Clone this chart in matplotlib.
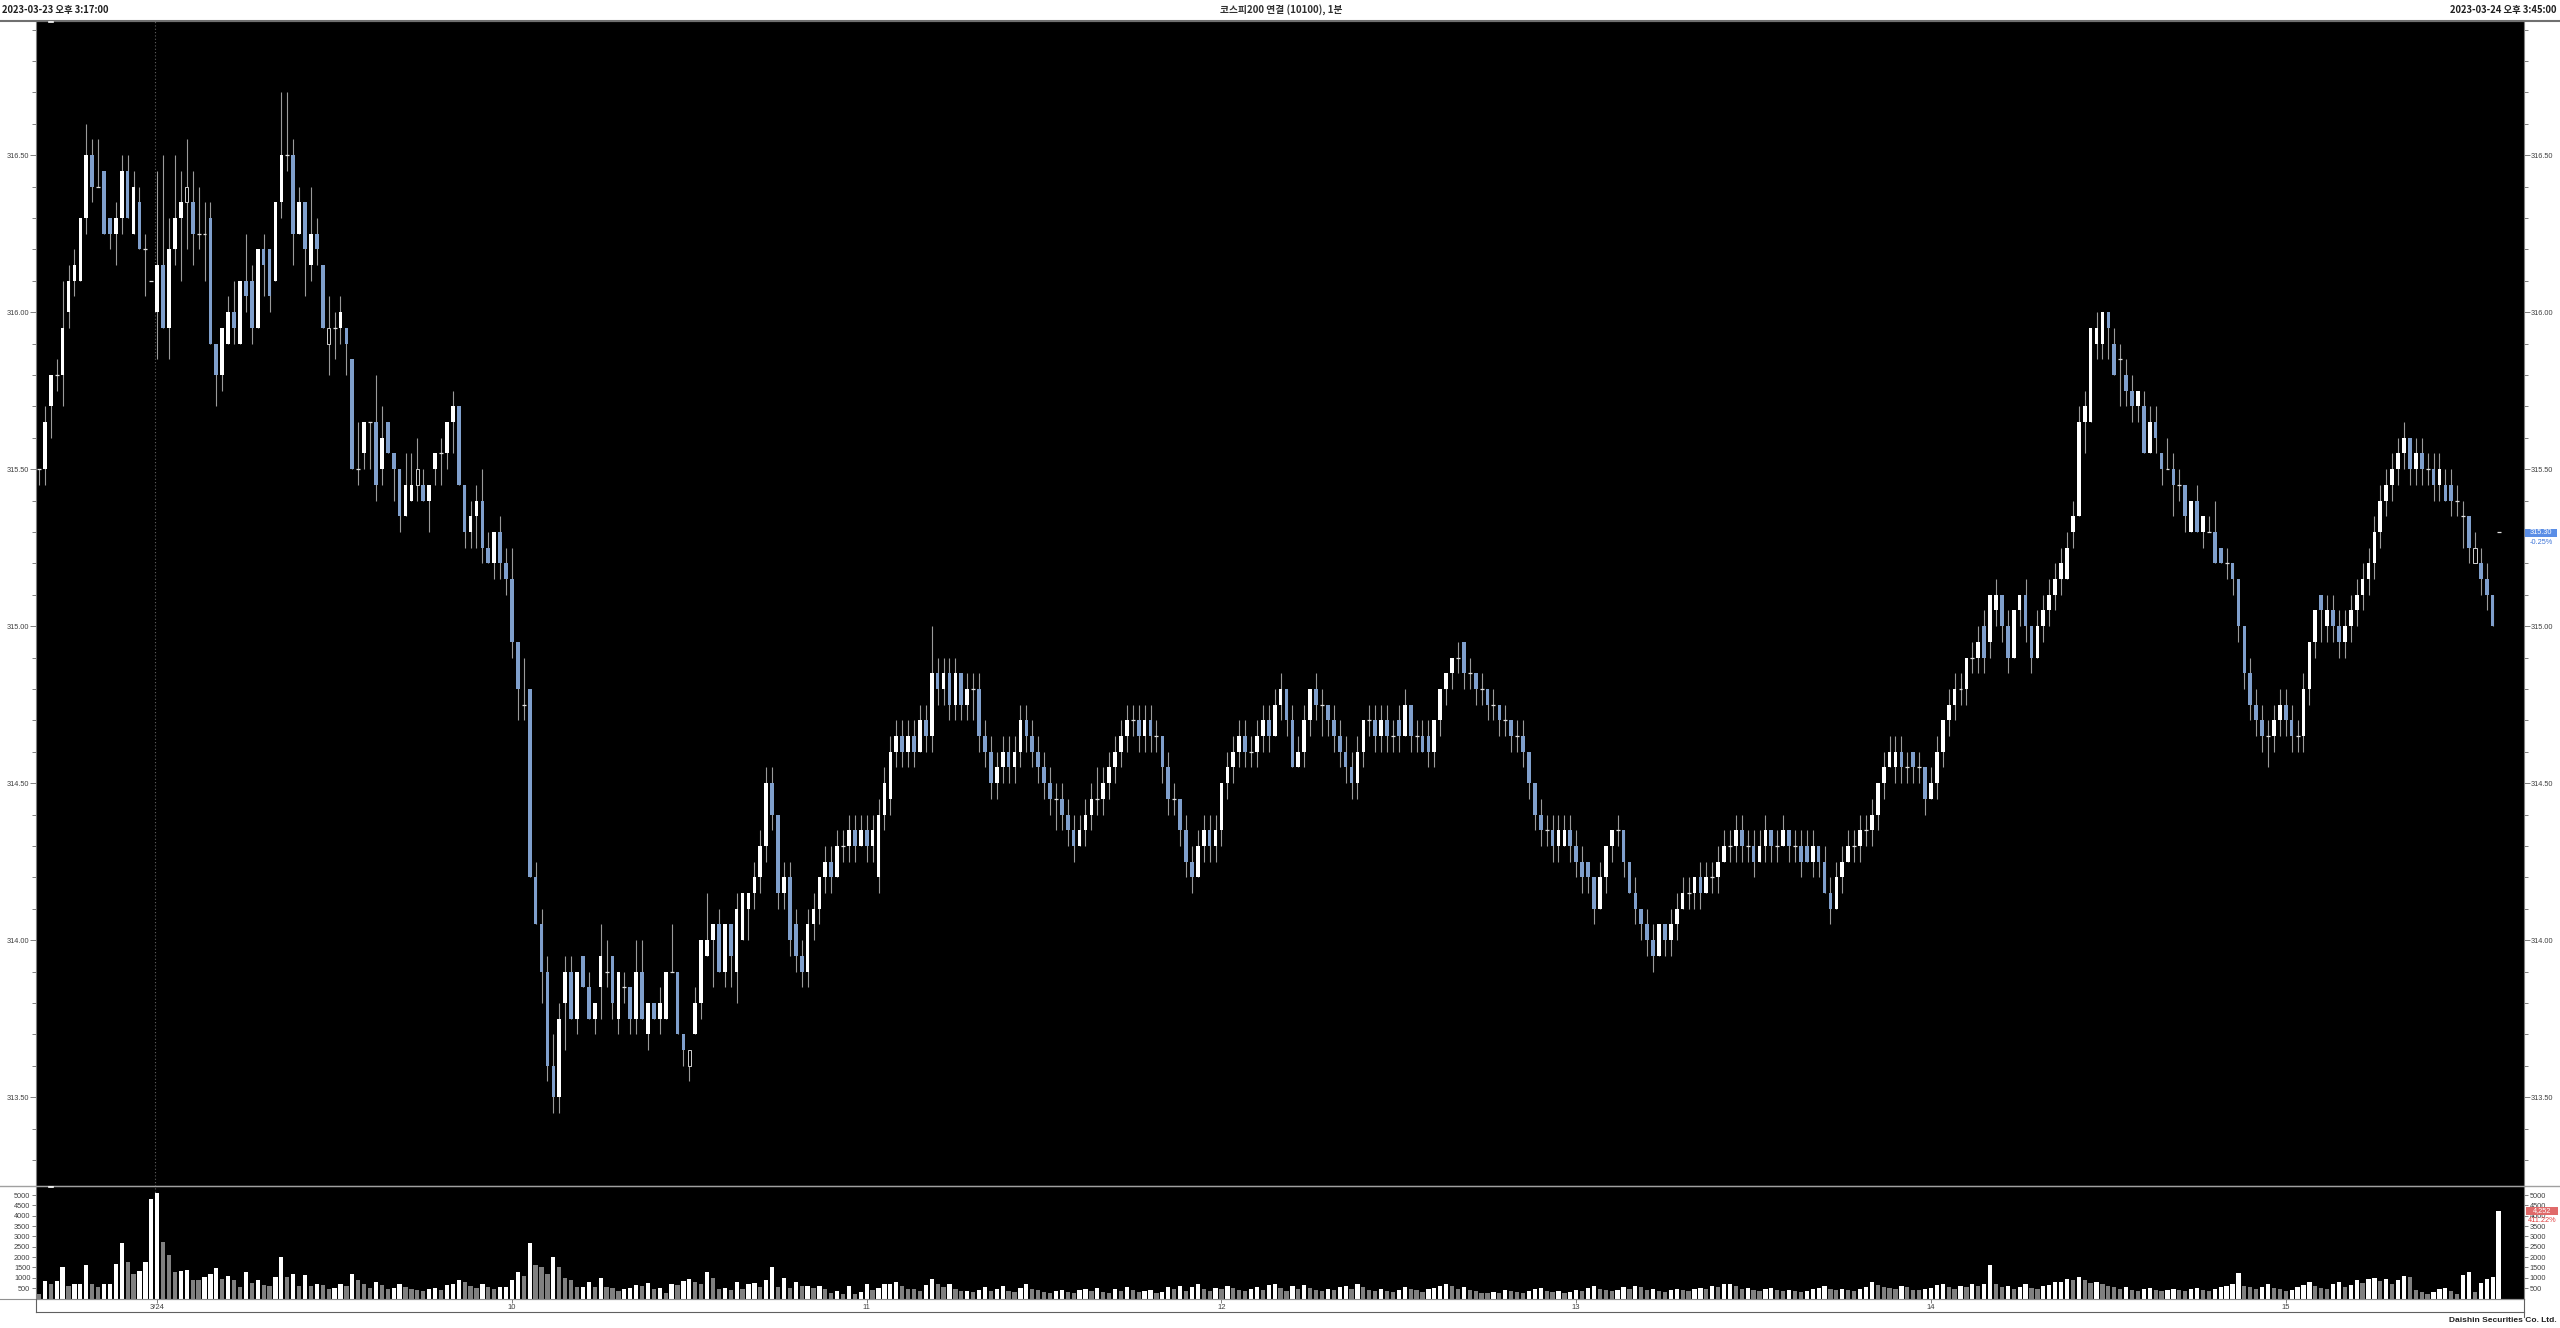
import matplotlib
matplotlib.use("Agg")
import matplotlib.pyplot as plt
import matplotlib.ticker as mticker
import numpy as np
from matplotlib.lines import Line2D
from matplotlib.patches import Rectangle

plt.rcParams['font.family'] = ['Liberation Sans', 'Noto Sans CJK KR', 'DejaVu Sans']

# ---------------- data ----------------
title_left = "2023-03-23 오후 3:17:00"
title_center = "코스피200 연결 (10100), 1분"
title_right = "2023-03-24 오후 3:45:00"
footer = "Daishin Securities Co. Ltd."

x_tick_bars = [20, 80, 140, 200, 260, 320, 380]
x_tick_labels = ["3/24", "10", "11", "12", "13", "14", "15"]
day_break = 19.6

# bars 0..104
opens_a = [315.50, 315.50, 315.70, 315.80, 315.80, 316.00, 316.10, 316.10, 316.30, 316.50,
           316.40, 316.45, 316.30, 316.25, 316.30, 316.45, 316.25, 316.35, 316.20, 316.10,
           316.00, 316.15, 315.95, 316.20, 316.30, 316.35, 316.35, 316.25, 316.25, 316.30,
           315.90, 315.80, 315.90, 316.00, 315.90, 316.10, 316.10, 315.95, 316.20, 316.20,
           316.10, 316.35, 316.50, 316.50, 316.25, 316.35, 316.15, 316.25, 316.15, 315.90,
           315.95, 315.95, 315.95, 315.85, 315.50, 315.55, 315.65, 315.65, 315.50, 315.65,
           315.55, 315.50, 315.35, 315.40, 315.45, 315.45, 315.40, 315.50, 315.55, 315.55,
           315.65, 315.70, 315.45, 315.30, 315.35, 315.40, 315.25, 315.20, 315.30, 315.20,
           315.15, 314.95, 314.75, 314.80, 314.20, 314.05, 313.90, 313.60, 313.50, 313.80,
           313.90, 313.75, 313.95, 313.85, 313.75, 313.85, 313.90, 313.95, 313.75, 313.85,
           313.85, 313.75, 313.90, 313.70, 313.80]
highs_a = [315.50, 315.70, 315.80, 315.85, 316.10, 316.15, 316.20, 316.30, 316.60, 316.55,
           316.55, 316.45, 316.30, 316.35, 316.50, 316.50, 316.45, 316.40, 316.25, 316.10,
           316.45, 316.50, 316.30, 316.50, 316.45, 316.55, 316.45, 316.40, 316.35, 316.35,
           315.90, 315.95, 316.05, 316.10, 316.10, 316.25, 316.15, 316.20, 316.25, 316.20,
           316.35, 316.70, 316.70, 316.55, 316.40, 316.35, 316.40, 316.30, 316.15, 316.05,
           316.00, 316.05, 315.95, 315.85, 315.65, 315.65, 315.65, 315.80, 315.70, 315.65,
           315.55, 315.50, 315.55, 315.55, 315.60, 315.50, 315.45, 315.55, 315.60, 315.65,
           315.75, 315.70, 315.45, 315.40, 315.45, 315.50, 315.30, 315.30, 315.35, 315.25,
           315.25, 314.95, 314.90, 314.80, 314.25, 314.10, 313.95, 313.70, 313.80, 313.95,
           313.95, 313.90, 313.95, 313.90, 313.80, 314.05, 314.00, 313.95, 313.90, 313.90,
           313.85, 314.00, 314.00, 313.80, 313.80]
lows_a = [315.45, 315.45, 315.60, 315.75, 315.70, 315.95, 316.05, 316.10, 316.25, 316.35,
          316.40, 316.25, 316.20, 316.15, 316.25, 316.30, 316.25, 316.20, 316.05, 316.10,
          315.85, 315.95, 315.85, 316.15, 316.10, 316.20, 316.15, 316.20, 316.10, 315.90,
          315.70, 315.75, 315.90, 315.90, 315.90, 316.00, 315.90, 315.95, 316.05, 316.00,
          316.10, 316.30, 316.45, 316.15, 316.25, 316.05, 316.10, 316.15, 315.95, 315.80,
          315.85, 315.90, 315.80, 315.50, 315.45, 315.50, 315.50, 315.40, 315.45, 315.55,
          315.40, 315.30, 315.35, 315.40, 315.40, 315.40, 315.30, 315.45, 315.45, 315.50,
          315.55, 315.45, 315.25, 315.25, 315.25, 315.20, 315.20, 315.15, 315.15, 315.10,
          314.90, 314.70, 314.70, 314.20, 314.05, 313.80, 313.55, 313.45, 313.45, 313.65,
          313.75, 313.70, 313.85, 313.75, 313.70, 313.75, 313.85, 313.75, 313.70, 313.80,
          313.70, 313.70, 313.75, 313.65, 313.75]
closes_a = [315.50, 315.65, 315.80, 315.80, 315.95, 316.10, 316.15, 316.30, 316.50, 316.40,
            316.40, 316.25, 316.25, 316.30, 316.45, 316.30, 316.40, 316.20, 316.20, 316.10,
            316.15, 315.95, 316.20, 316.30, 316.35, 316.40, 316.25, 316.25, 316.25, 315.90,
            315.80, 315.95, 316.00, 315.95, 316.10, 316.05, 315.95, 316.20, 316.15, 316.05,
            316.35, 316.50, 316.50, 316.25, 316.35, 316.20, 316.25, 316.20, 315.95, 315.95,
            315.95, 316.00, 315.90, 315.50, 315.50, 315.65, 315.65, 315.45, 315.60, 315.55,
            315.50, 315.35, 315.45, 315.45, 315.50, 315.40, 315.45, 315.55, 315.55, 315.65,
            315.70, 315.45, 315.30, 315.35, 315.40, 315.25, 315.20, 315.30, 315.20, 315.15,
            314.95, 314.80, 314.75, 314.20, 314.05, 313.90, 313.60, 313.50, 313.75, 313.90,
            313.75, 313.90, 313.85, 313.75, 313.80, 313.95, 313.90, 313.80, 313.90, 313.85,
            313.75, 313.90, 313.75, 313.80, 313.75]

# bars 105..416
opens_b = [313.75, 313.75, 313.90, 313.90, 313.70, 313.60, 313.70, 313.80, 313.95, 314.00,
           314.05, 313.90, 314.05, 313.90, 314.00, 314.10, 314.15, 314.20, 314.30, 314.50,
           314.40, 314.15, 314.20, 314.05, 313.95, 313.90, 314.05, 314.10, 314.20, 314.25,
           314.20, 314.30, 314.30, 314.35, 314.30, 314.35, 314.30, 314.20, 314.40, 314.45,
           314.60, 314.65, 314.60, 314.65, 314.60, 314.70, 314.65, 314.85, 314.80, 314.85,
           314.75, 314.85, 314.75, 314.80, 314.80, 314.65, 314.60, 314.50, 314.55, 314.60,
           314.55, 314.60, 314.70, 314.65, 314.60, 314.55, 314.50, 314.45, 314.45, 314.40,
           314.35, 314.30, 314.35, 314.40, 314.45, 314.45, 314.50, 314.55, 314.60, 314.65,
           314.70, 314.70, 314.65, 314.70, 314.65, 314.65, 314.55, 314.45, 314.45, 314.35,
           314.25, 314.20, 314.30, 314.35, 314.30, 314.35, 314.50, 314.55, 314.60, 314.65,
           314.60, 314.60, 314.65, 314.70, 314.65, 314.75, 314.80, 314.70, 314.55, 314.60,
           314.70, 314.80, 314.75, 314.75, 314.70, 314.65, 314.60, 314.55, 314.50, 314.60,
           314.70, 314.70, 314.65, 314.70, 314.65, 314.70, 314.65, 314.75, 314.65, 314.65,
           314.65, 314.60, 314.70, 314.80, 314.85, 314.90, 314.95, 314.85, 314.85, 314.80,
           314.80, 314.75, 314.75, 314.70, 314.70, 314.65, 314.65, 314.60, 314.50, 314.40,
           314.35, 314.35, 314.30, 314.30, 314.35, 314.30, 314.25, 314.25, 314.20, 314.10,
           314.20, 314.30, 314.35, 314.35, 314.25, 314.15, 314.10, 314.05, 314.00, 313.95,
           314.05, 314.00, 314.05, 314.10, 314.15, 314.15, 314.20, 314.15, 314.20, 314.20,
           314.25, 314.30, 314.30, 314.35, 314.30, 314.30, 314.25, 314.30, 314.35, 314.30,
           314.30, 314.35, 314.30, 314.30, 314.30, 314.25, 314.30, 314.25, 314.15, 314.10,
           314.20, 314.25, 314.30, 314.30, 314.35, 314.35, 314.40, 314.50, 314.55, 314.55,
           314.60, 314.55, 314.60, 314.55, 314.55, 314.45, 314.50, 314.60, 314.70, 314.75,
           314.80, 314.80, 314.90, 314.90, 315.00, 314.95, 315.05, 315.10, 315.00, 314.90,
           315.05, 315.10, 315.00, 314.90, 315.00, 315.05, 315.10, 315.15, 315.15, 315.30,
           315.35, 315.65, 315.65, 315.90, 315.90, 316.00, 315.90, 315.85, 315.80, 315.75,
           315.70, 315.70, 315.55, 315.65, 315.55, 315.50, 315.50, 315.45, 315.45, 315.30,
           315.40, 315.30, 315.30, 315.30, 315.25, 315.20, 315.20, 315.15, 315.00, 314.85,
           314.75, 314.70, 314.65, 314.65, 314.70, 314.75, 314.70, 314.65, 314.65, 314.80,
           314.95, 315.10, 315.00, 315.05, 315.00, 314.95, 315.00, 315.05, 315.10, 315.15,
           315.20, 315.30, 315.40, 315.45, 315.50, 315.55, 315.60, 315.50, 315.55, 315.50,
           315.50, 315.45, 315.45, 315.45, 315.40, 315.35, 315.35, 315.20, 315.20, 315.15,
           315.10, 315.30]
highs_b = [313.85, 313.90, 314.05, 313.90, 313.70, 313.65, 313.85, 314.00, 314.15, 314.05,
           314.10, 314.05, 314.05, 314.15, 314.15, 314.15, 314.25, 314.35, 314.55, 314.55,
           314.40, 314.25, 314.25, 314.10, 314.00, 314.10, 314.15, 314.20, 314.30, 314.30,
           314.35, 314.35, 314.40, 314.40, 314.40, 314.40, 314.40, 314.45, 314.55, 314.65,
           314.70, 314.70, 314.70, 314.70, 314.75, 314.75, 315.00, 314.90, 314.90, 314.90,
           314.90, 314.85, 314.85, 314.85, 314.85, 314.70, 314.65, 314.60, 314.65, 314.65,
           314.65, 314.75, 314.75, 314.70, 314.65, 314.60, 314.55, 314.50, 314.50, 314.45,
           314.40, 314.40, 314.45, 314.50, 314.55, 314.55, 314.60, 314.65, 314.70, 314.75,
           314.75, 314.75, 314.75, 314.75, 314.70, 314.65, 314.60, 314.50, 314.45, 314.40,
           314.30, 314.35, 314.40, 314.40, 314.40, 314.50, 314.60, 314.65, 314.70, 314.70,
           314.65, 314.70, 314.75, 314.75, 314.80, 314.85, 314.80, 314.75, 314.65, 314.75,
           314.80, 314.85, 314.80, 314.75, 314.75, 314.70, 314.65, 314.60, 314.65, 314.70,
           314.75, 314.75, 314.75, 314.75, 314.70, 314.75, 314.80, 314.75, 314.70, 314.70,
           314.70, 314.70, 314.80, 314.85, 314.90, 314.95, 314.95, 314.90, 314.85, 314.85,
           314.80, 314.80, 314.75, 314.75, 314.70, 314.70, 314.70, 314.60, 314.50, 314.45,
           314.40, 314.40, 314.40, 314.40, 314.40, 314.35, 314.30, 314.25, 314.20, 314.25,
           314.30, 314.35, 314.40, 314.35, 314.25, 314.20, 314.10, 314.10, 314.05, 314.05,
           314.05, 314.10, 314.15, 314.20, 314.20, 314.20, 314.25, 314.25, 314.25, 314.30,
           314.35, 314.35, 314.40, 314.40, 314.35, 314.35, 314.35, 314.40, 314.35, 314.35,
           314.40, 314.35, 314.35, 314.35, 314.35, 314.35, 314.30, 314.30, 314.20, 314.25,
           314.30, 314.35, 314.35, 314.40, 314.40, 314.45, 314.50, 314.60, 314.65, 314.65,
           314.65, 314.60, 314.60, 314.60, 314.55, 314.55, 314.65, 314.70, 314.80, 314.85,
           314.85, 314.90, 314.95, 315.00, 315.05, 315.10, 315.15, 315.10, 315.05, 315.05,
           315.10, 315.15, 315.00, 315.05, 315.10, 315.15, 315.20, 315.25, 315.30, 315.40,
           315.70, 315.75, 315.95, 316.00, 316.00, 316.00, 315.95, 315.90, 315.85, 315.80,
           315.75, 315.75, 315.70, 315.70, 315.55, 315.60, 315.55, 315.50, 315.45, 315.40,
           315.45, 315.35, 315.35, 315.40, 315.25, 315.25, 315.20, 315.15, 315.00, 314.90,
           314.80, 314.75, 314.70, 314.75, 314.80, 314.80, 314.75, 314.70, 314.85, 314.95,
           315.05, 315.10, 315.10, 315.10, 315.05, 315.05, 315.10, 315.15, 315.20, 315.25,
           315.35, 315.45, 315.50, 315.55, 315.60, 315.65, 315.60, 315.60, 315.60, 315.55,
           315.55, 315.55, 315.50, 315.50, 315.45, 315.40, 315.35, 315.30, 315.25, 315.20,
           315.10, 315.30]
lows_b = [313.70, 313.75, 313.90, 313.70, 313.60, 313.55, 313.70, 313.75, 313.95, 313.85,
          313.90, 313.85, 313.85, 313.80, 314.00, 314.00, 314.10, 314.15, 314.25, 314.35,
          314.10, 314.10, 313.95, 313.90, 313.85, 313.85, 314.00, 314.05, 314.15, 314.15,
          314.20, 314.25, 314.25, 314.25, 314.30, 314.25, 314.25, 314.15, 314.35, 314.40,
          314.55, 314.55, 314.55, 314.55, 314.60, 314.60, 314.60, 314.75, 314.75, 314.70,
          314.70, 314.70, 314.70, 314.70, 314.60, 314.55, 314.45, 314.45, 314.50, 314.50,
          314.50, 314.55, 314.60, 314.55, 314.50, 314.45, 314.40, 314.35, 314.35, 314.30,
          314.25, 314.30, 314.30, 314.35, 314.40, 314.40, 314.45, 314.50, 314.55, 314.60,
          314.65, 314.60, 314.60, 314.60, 314.60, 314.50, 314.40, 314.40, 314.30, 314.20,
          314.15, 314.20, 314.25, 314.25, 314.25, 314.30, 314.45, 314.50, 314.55, 314.55,
          314.55, 314.55, 314.60, 314.60, 314.65, 314.70, 314.65, 314.55, 314.55, 314.55,
          314.65, 314.70, 314.65, 314.65, 314.60, 314.55, 314.50, 314.45, 314.45, 314.55,
          314.65, 314.60, 314.60, 314.60, 314.60, 314.60, 314.65, 314.60, 314.60, 314.60,
          314.55, 314.55, 314.65, 314.75, 314.80, 314.85, 314.80, 314.80, 314.75, 314.75,
          314.70, 314.70, 314.65, 314.65, 314.60, 314.60, 314.55, 314.45, 314.35, 314.30,
          314.30, 314.25, 314.25, 314.30, 314.25, 314.20, 314.15, 314.15, 314.05, 314.10,
          314.15, 314.25, 314.30, 314.20, 314.15, 314.05, 314.00, 313.95, 313.90, 313.95,
          313.95, 313.95, 314.00, 314.10, 314.10, 314.10, 314.10, 314.15, 314.15, 314.15,
          314.25, 314.25, 314.25, 314.25, 314.25, 314.20, 314.25, 314.25, 314.25, 314.25,
          314.30, 314.25, 314.25, 314.20, 314.25, 314.20, 314.20, 314.15, 314.05, 314.10,
          314.15, 314.25, 314.25, 314.25, 314.30, 314.30, 314.35, 314.45, 314.55, 314.50,
          314.50, 314.50, 314.50, 314.50, 314.40, 314.45, 314.45, 314.55, 314.65, 314.70,
          314.75, 314.75, 314.85, 314.85, 314.85, 314.90, 315.00, 314.95, 314.85, 314.90,
          315.00, 314.95, 314.85, 314.90, 314.95, 315.00, 315.05, 315.10, 315.15, 315.25,
          315.35, 315.55, 315.65, 315.85, 315.85, 315.85, 315.80, 315.70, 315.70, 315.65,
          315.65, 315.55, 315.55, 315.55, 315.45, 315.50, 315.35, 315.40, 315.30, 315.30,
          315.30, 315.25, 315.30, 315.20, 315.20, 315.15, 315.10, 314.95, 314.80, 314.70,
          314.65, 314.60, 314.55, 314.60, 314.65, 314.65, 314.60, 314.60, 314.60, 314.75,
          314.90, 314.95, 314.95, 314.95, 314.90, 314.90, 314.95, 315.00, 315.05, 315.10,
          315.15, 315.25, 315.35, 315.40, 315.45, 315.50, 315.45, 315.45, 315.45, 315.45,
          315.40, 315.40, 315.40, 315.35, 315.35, 315.25, 315.20, 315.20, 315.10, 315.05,
          315.00, 315.30]
closes_b = [313.80, 313.90, 313.90, 313.70, 313.65, 313.65, 313.80, 314.00, 314.00, 314.05,
            313.90, 314.05, 313.95, 314.10, 314.15, 314.15, 314.20, 314.30, 314.50, 314.40,
            314.15, 314.20, 314.00, 313.95, 313.90, 314.05, 314.10, 314.20, 314.25, 314.20,
            314.30, 314.30, 314.35, 314.30, 314.35, 314.30, 314.35, 314.40, 314.50, 314.60,
            314.65, 314.60, 314.65, 314.60, 314.70, 314.65, 314.85, 314.80, 314.85, 314.75,
            314.85, 314.75, 314.80, 314.80, 314.65, 314.60, 314.50, 314.55, 314.60, 314.55,
            314.60, 314.70, 314.65, 314.60, 314.55, 314.50, 314.45, 314.45, 314.40, 314.35,
            314.30, 314.35, 314.40, 314.45, 314.45, 314.50, 314.55, 314.60, 314.65, 314.70,
            314.70, 314.65, 314.70, 314.65, 314.65, 314.55, 314.45, 314.45, 314.35, 314.25,
            314.20, 314.30, 314.35, 314.30, 314.35, 314.50, 314.55, 314.60, 314.65, 314.60,
            314.60, 314.65, 314.70, 314.65, 314.75, 314.80, 314.70, 314.55, 314.60, 314.70,
            314.80, 314.75, 314.75, 314.70, 314.65, 314.60, 314.55, 314.50, 314.60, 314.70,
            314.70, 314.65, 314.70, 314.65, 314.65, 314.65, 314.75, 314.65, 314.65, 314.60,
            314.60, 314.70, 314.80, 314.85, 314.90, 314.90, 314.85, 314.85, 314.80, 314.80,
            314.75, 314.75, 314.70, 314.70, 314.65, 314.65, 314.60, 314.50, 314.40, 314.35,
            314.35, 314.30, 314.35, 314.35, 314.30, 314.25, 314.20, 314.20, 314.10, 314.20,
            314.30, 314.35, 314.35, 314.25, 314.15, 314.10, 314.05, 314.00, 313.95, 314.05,
            314.00, 314.05, 314.10, 314.15, 314.15, 314.20, 314.15, 314.20, 314.20, 314.25,
            314.30, 314.30, 314.35, 314.30, 314.30, 314.25, 314.30, 314.35, 314.30, 314.30,
            314.35, 314.30, 314.30, 314.25, 314.25, 314.30, 314.25, 314.15, 314.10, 314.20,
            314.25, 314.30, 314.30, 314.35, 314.35, 314.40, 314.50, 314.55, 314.60, 314.60,
            314.55, 314.55, 314.55, 314.55, 314.45, 314.50, 314.60, 314.70, 314.75, 314.80,
            314.80, 314.90, 314.90, 314.95, 314.90, 315.10, 315.10, 315.00, 314.90, 315.05,
            315.10, 315.00, 314.90, 315.00, 315.05, 315.10, 315.15, 315.20, 315.25, 315.35,
            315.65, 315.70, 315.95, 315.95, 316.00, 315.95, 315.80, 315.85, 315.75, 315.70,
            315.75, 315.55, 315.65, 315.60, 315.50, 315.50, 315.45, 315.45, 315.35, 315.40,
            315.30, 315.35, 315.30, 315.20, 315.20, 315.20, 315.15, 315.00, 314.85, 314.75,
            314.70, 314.65, 314.65, 314.70, 314.75, 314.70, 314.65, 314.65, 314.80, 314.95,
            315.05, 315.05, 315.05, 315.00, 314.95, 315.00, 315.05, 315.10, 315.15, 315.20,
            315.30, 315.40, 315.45, 315.50, 315.55, 315.60, 315.50, 315.55, 315.50, 315.50,
            315.45, 315.50, 315.40, 315.40, 315.40, 315.35, 315.25, 315.25, 315.15, 315.10,
            315.00, 315.30]

hollow_bars = [25, 49, 64, 110, 412]

volumes_a = [200, 840, 680, 840, 1500, 600, 700, 700, 1600, 700, 550, 700, 700, 1650, 2700,
             1750, 1180, 1330, 1750, 4800, 5100, 2750, 2100, 1270, 1320, 1380, 890, 880, 1040,
             1180, 1480, 930, 1100, 900, 580, 1260, 750, 880, 650, 620, 1030, 2030, 1060, 1170,
             600, 1150, 600, 700, 650, 450, 500, 700, 600, 1200, 900, 700, 500, 800, 650, 450,
             500, 700, 550, 450, 400, 350, 450, 500, 400, 650, 700, 900, 800, 600, 500, 724,
             563, 450, 563, 563, 900, 1300, 1100, 2700, 1600, 1500, 1200, 2000, 1500, 1000,
             900, 563, 563, 805, 563, 1000, 563, 498, 353, 450, 498, 676, 611, 760, 450, 530,
             290, 724, 650, 850, 950, 805, 724, 1300, 1000, 480, 510, 430, 805, 480, 690, 760,
             563, 900, 1500, 563, 1000, 530, 805, 600, 600, 530, 600, 450, 290, 370, 240, 600,
             240, 300, 724, 400, 498, 690, 690, 805, 600, 480, 450, 370, 650, 950, 680, 563,
             690, 450, 353, 353, 320]
volumes_b = [420, 560, 380, 470, 610, 350, 300, 520, 680, 450, 390, 330,
             280, 360, 430, 310, 250, 400, 470, 360, 520, 330, 290, 450, 380, 560, 420, 300, 350,
             410, 280, 330, 540, 470, 620, 380, 560, 700, 450, 380, 520, 440, 610, 500, 390,
             350, 480, 560, 430, 640, 720, 510, 380, 590, 470, 650, 520, 410, 360, 480, 390, 550,
             610, 470, 690,
             540, 420, 380, 470, 350, 310, 420, 560, 480, 390, 330, 450, 520, 610, 680, 590, 470,
             540, 400,
             360, 290, 250, 330, 280, 400, 350, 310, 260, 370, 450, 520, 380, 300, 340, 280,
             330, 410, 380, 520, 600, 470, 390, 350, 420, 560, 480, 620, 540, 400, 450, 370, 330,
             410, 480, 390, 360, 450, 520,
             470, 600, 540, 680, 720, 590, 460, 530, 410, 380, 450, 520, 390, 340, 420, 360,
             300, 380, 450, 520, 610, 440, 390, 470, 400, 350, 480, 560, 820, 640,
             580, 520, 460, 610, 540, 430, 390, 470, 520, 640, 700, 560, 480, 610, 540, 680, 590,
             720,
             1620,
             680, 540, 620, 480, 560, 700, 520, 460, 590, 640, 780,
             820, 960, 900, 1050, 880, 760, 820, 690, 600,
             540, 480, 560, 420, 380, 460, 520, 400, 350, 420, 480, 390, 340, 450, 520, 410, 380,
             460, 540, 600, 720,
             1250,
             620, 540, 480, 560, 700, 520, 450, 380, 420, 560, 640, 780, 600,
             520, 480, 700, 820, 560, 640, 880, 760, 920, 1000, 840, 960, 720, 880]
volumes_c = [1080, 1020, 400, 300, 210, 320, 450, 530, 370, 240, 1160, 1290, 300, 730, 940,
             1030, 4252]

last_price = "315.30"
last_change = "-0.25%"
last_volume = "4,252"
volume_change = "411.22%"

# ---------------- assemble ----------------
opens = np.array(opens_a + opens_b)
highs = np.array(highs_a + highs_b)
lows = np.array(lows_a + lows_b)
closes = np.array(closes_a + closes_b)
volumes = np.array(volumes_a + volumes_b + volumes_c, dtype=float)
n = min(len(opens), len(highs), len(lows), len(closes), len(volumes))
opens, highs, lows, closes, volumes = opens[:n], highs[:n], lows[:n], closes[:n], volumes[:n]
xs = np.arange(n)

BLUE = '#7f9fcc'
WICK = '#9a9a9a'
GRAY = '#808080'
LBL = '#404040'

W, H = 2560, 1328
fig = plt.figure(figsize=(W / 100, H / 100), dpi=100, facecolor='white')


def fx(px):
    return px / W


def fy(py):
    return 1 - py / H


L, R = 36, 2524
T, M, B, XB = 20.5, 1186, 1298.5, 1312

ax = fig.add_axes([fx(L), fy(M), fx(R) - fx(L), fy(T) - fy(M)], facecolor='black')
axv = fig.add_axes([fx(L), fy(B), fx(R) - fx(L), fy(M) - fy(B)], facecolor='black')

# candles
ax.vlines(xs, lows, highs, color=WICK, lw=0.8, zorder=2)
up = closes > opens
dn = closes < opens
dj = np.isclose(closes, opens)
up &= ~dj
dn &= ~dj
hol = np.zeros(n, dtype=bool)
hol[[b for b in hollow_bars if b < n]] = True
ax.bar(xs[up & ~hol], (closes - opens)[up & ~hol], bottom=opens[up & ~hol], width=0.62,
       color='white', lw=0, zorder=3)
ax.bar(xs[dn & ~hol], (opens - closes)[dn & ~hol], bottom=closes[dn & ~hol], width=0.62,
       color=BLUE, lw=0, zorder=3)
ax.bar(xs[hol], np.abs(closes - opens)[hol], bottom=np.minimum(opens, closes)[hol],
       width=0.55, facecolor='black', edgecolor='#d0d0d0', lw=0.7, zorder=3)
ax.hlines(closes[dj], xs[dj] - 0.33, xs[dj] + 0.33, color='#e0e0e0', lw=0.9, zorder=3)

ax.set_xlim(-0.5, 420.3)
ax.set_ylim(313.217, 316.929)
ax.set_yticks(np.arange(313.5, 316.51, 0.5))
ax.set_yticks(np.arange(313.3, 316.91, 0.1), minor=True)
ax.yaxis.set_major_formatter(mticker.FormatStrFormatter('%.2f'))
ax.tick_params(axis='y', which='both', left=True, right=True, labelleft=True,
               labelright=True, direction='out', colors=GRAY, labelcolor=LBL,
               labelsize=5.3, pad=1)
ax.tick_params(axis='y', which='major', length=4, width=0.7)
ax.tick_params(axis='y', which='minor', length=3, width=0.7)
ax.set_xticks([])
for s in ax.spines.values():
    s.set_color(GRAY)
    s.set_linewidth(0.8)
ax.axvline(day_break, color='#606060', ls=(0, (1, 2)), lw=0.8, zorder=1)

# volume
vcol = ['#808080'] + ['white' if volumes[i] >= volumes[i - 1] else '#808080'
                      for i in range(1, n)]
axv.bar(xs, volumes, width=0.72, color=vcol, lw=0, zorder=3)
axv.set_xlim(-0.5, 420.3)
axv.set_ylim(0, 5440)
axv.set_yticks(np.arange(500, 5001, 500))
axv.tick_params(axis='y', which='both', left=True, right=True, labelleft=True,
                labelright=True, direction='out', colors=GRAY, labelcolor=LBL,
                labelsize=5.3, pad=1, length=3, width=0.7)
axv.set_xticks(x_tick_bars)
axv.set_xticklabels(x_tick_labels)
axv.tick_params(axis='x', direction='out', length=3, width=0.7, colors=GRAY,
                labelcolor=LBL, labelsize=5.5, pad=1)
for s in axv.spines.values():
    s.set_color(GRAY)
    s.set_linewidth(0.8)
axv.axvline(day_break, color='#606060', ls=(0, (1, 2)), lw=0.8, zorder=1)

# frame lines
fig.add_artist(Line2D([0, 1], [fy(T), fy(T)], color='#707070', lw=1.5))
fig.add_artist(Line2D([0, 1], [fy(M), fy(M)], color='#a0a0a0', lw=1.0))
fig.add_artist(Line2D([0, fx(R)], [fy(B), fy(B)], color='#909090', lw=0.8))
fig.add_artist(Line2D([fx(L), fx(R)], [fy(XB), fy(XB)], color='#606060', lw=0.8))
fig.add_artist(Line2D([fx(L), fx(L)], [fy(B), fy(XB)], color='#606060', lw=0.8))
fig.add_artist(Line2D([fx(R), fx(R)], [fy(B), fy(XB) - 0.004], color='#606060', lw=0.8))
# small markers at the top-left of each panel
fig.add_artist(Line2D([fx(49), fx(53)], [fy(21.5), fy(21.5)], color='white', lw=1.2))
fig.add_artist(Line2D([fx(49), fx(53)], [fy(1187), fy(1187)], color='white', lw=1.2))

# header / footer
hdr_font = ['Noto Sans CJK KR', 'DejaVu Sans']
fig.text(fx(2), fy(10), title_left, ha='left', va='center', fontsize=6.8,
         fontweight='bold', family=hdr_font, color='#202020')
fig.text(fx(1281), fy(10), title_center, ha='center', va='center', fontsize=7,
         fontweight='bold', family=hdr_font, color='#303030')
fig.text(fx(2557), fy(10), title_right, ha='right', va='center', fontsize=6.8,
         fontweight='bold', family=hdr_font, color='#202020')
fig.text(fx(2557), fy(1320), footer, ha='right', va='center', fontsize=6,
         fontweight='bold', color='#202020')

# last price tag
fig.add_artist(Rectangle((fx(2525), fy(537)), fx(32), fy(529) - fy(537),
                         transform=fig.transFigure, facecolor='#5b8ee6', lw=0, zorder=5))
fig.text(fx(2541), fy(533), last_price, ha='center', va='center', fontsize=5.3,
         color='white', zorder=6)
fig.text(fx(2541), fy(542), last_change, ha='center', va='center', fontsize=5.3,
         color='#3d74d8', zorder=6)
# last volume tag
fig.add_artist(Rectangle((fx(2526), fy(1214.5)), fx(32), fy(1206.5) - fy(1214.5),
                         transform=fig.transFigure, facecolor='#e06a6a', lw=0, zorder=5))
fig.text(fx(2542), fy(1210.5), last_volume, ha='center', va='center', fontsize=5.3,
         color='white', zorder=6)
fig.text(fx(2542), fy(1220), volume_change, ha='center', va='center', fontsize=5.3,
         color='#e03c3c', zorder=6)

fig.savefig('out.png', dpi=100, facecolor='white')
